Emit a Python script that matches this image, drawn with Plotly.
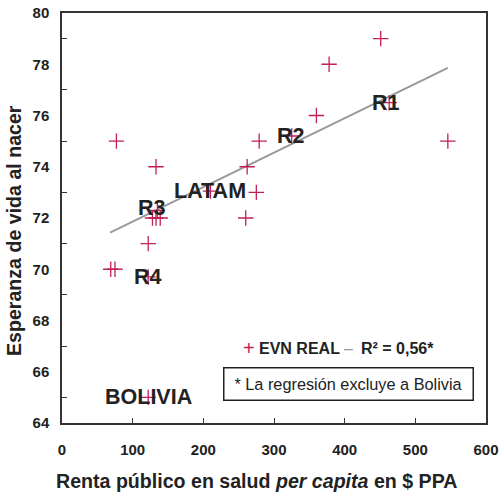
import plotly.graph_objects as go

# gasto publico en salud per capita ($ PPA) vs esperanza de vida al nacer
gasto = [451, 378, 360, 463, 546, 77, 279, 325, 133, 262, 275, 210, 260,
         135, 128, 133, 139, 122, 69, 75, 122, 122]
esperanza = [79, 78, 76, 76.5, 75, 75, 75, 75.2, 74, 74, 73, 73.05, 72,
             72.3, 72, 72, 72, 71, 70, 70, 69.7, 65]

# recta de regresion (excluye a Bolivia)
trend_x = [68, 546]
trend_y = [71.43, 77.86]

etiquetas = ["R1", "R2", "LATAM", "R3", "R4", "BOLIVIA"]
etiq_x = [458, 324, 209, 128, 121, 122]
etiq_y = [76.5, 75.2, 73.05, 72.4, 69.7, 65]

x_ticks = [0, 100, 200, 300, 400, 500, 600]
y_labels = [64, 66, 68, 70, 72, 74, 76, 78, 80]
y_ticks = [65, 67, 69, 71, 73, 75, 77, 79]

crimson = "#C41E5A"
dark = "#222222"
font_fam = "Liberation Sans, Arial, sans-serif"

fig = go.Figure()

fig.add_trace(
    go.Scatter(x = trend_x,
               y = trend_y,
               mode = "lines",
               line = dict(color = "#999999", width = 2),
               name = "R² = 0,56*"))

fig.add_trace(
    go.Scatter(x = gasto,
               y = esperanza,
               mode = "markers",
               marker = dict(symbol = "cross-thin", size = 11,
                             line = dict(color = crimson, width = 1.3)),
               name = "EVN REAL"))

def px_x(p):
    return (p - 62) / 424

def px_y(p):
    return (423 - p) / 410

annotations = []
for t, x, y in zip(etiquetas, etiq_x, etiq_y):
    annotations.append(dict(text = t, x = x, y = y, xref = "x", yref = "y",
                            showarrow = False,
                            font = dict(family = font_fam, size = 21.5, color = dark, weight = "bold")))

# leyenda hecha a mano
legend_font = dict(family = font_fam, size = 16, color = dark, weight = "bold")
legend_items = [("+", 249, "center", dict(family = font_fam, size = 20, color = crimson)),
                ("EVN REAL", 257, "left", legend_font),
                ("–", 348, "center", dict(family = font_fam, size = 16, color = "#999999")),
                ("R² = 0,56*", 359, "left", legend_font)]
for t, xp, anchor, f in legend_items:
    annotations.append(dict(text = t, x = px_x(xp), y = px_y(348),
                            xref = "paper", yref = "paper",
                            xanchor = anchor, yanchor = "middle",
                            showarrow = False, font = f))

# nota en recuadro
annotations.append(dict(
    text = "* La regresión excluye a Bolivia",
    x = px_x(348), y = px_y(383.5), xref = "paper", yref = "paper",
    xanchor = "center", yanchor = "middle", showarrow = False,
    width = 248, height = 31, borderpad = 0,
    bordercolor = dark, borderwidth = 1.5, bgcolor = "white",
    font = dict(family = font_fam, size = 16.3, color = dark)))

# titulos de ejes
annotations.append(dict(
    text = "Renta público en salud <i>per capita</i> en $ PPA",
    x = px_x(256), y = px_y(481), xref = "paper", yref = "paper",
    xanchor = "center", yanchor = "middle", showarrow = False,
    font = dict(family = font_fam, size = 19.6, color = dark, weight = "bold")))

annotations.append(dict(
    text = "Esperanza de vida al nacer", textangle = -90,
    x = px_x(14), y = px_y(231), xref = "paper", yref = "paper",
    xanchor = "center", yanchor = "middle", showarrow = False,
    font = dict(family = font_fam, size = 19.6, color = dark, weight = "bold")))

tickfont = dict(family = font_fam, size = 15, color = dark, weight = "bold")

fig.update_layout(width = 500,
                  height = 494,
                  margin = dict(l = 62, r = 14, t = 13, b = 71),
                  paper_bgcolor = "white",
                  plot_bgcolor = "white",
                  showlegend = False,
                  annotations = annotations,
                  xaxis = dict(range = [0, 600], tickvals = x_ticks,
                               ticks = "inside", ticklen = 5, tickcolor = "#333333",
                               tickfont = tickfont, ticklabelstandoff = 12,
                               automargin = False,
                               showgrid = False, zeroline = False,
                               showline = True, mirror = True,
                               linecolor = "#333333", linewidth = 1.5),
                  yaxis = dict(range = [64, 80], tickvals = y_labels,
                               ticks = "", tickfont = tickfont, ticklabelstandoff = 8,
                               automargin = False,
                               minor = dict(tickvals = y_ticks, ticks = "inside",
                                            ticklen = 5, tickcolor = "#333333",
                                            showgrid = False),
                               showgrid = False, zeroline = False,
                               showline = True, mirror = True,
                               linecolor = "#333333", linewidth = 1.5))

# quitar el margen del body para que la figura empiece en (0, 0)
js = ("document.body.style.margin='0';"
      "var d=document.getElementById('{plot_id}');"
      "d.style.position='absolute';d.style.top='0';d.style.left='0';")

fig.write_html("out.html", post_script = js, config = dict(displayModeBar = False))
